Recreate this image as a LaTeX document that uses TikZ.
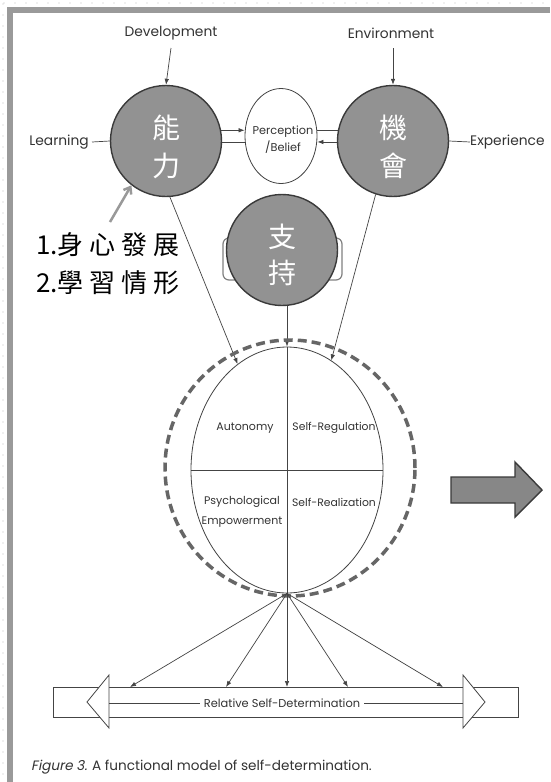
\documentclass[tikz,border=0pt]{standalone}
\usepackage{fontspec}
\setmainfont{Poppins}
\newfontfamily\cjk{Noto Sans CJK TC}
\newfontfamily\figit{Poppins}[FakeSlant=0.2]
\usetikzlibrary{shapes.geometric,arrows.meta}
\definecolor{framegray}{HTML}{9A9A9A}
\definecolor{circfill}{HTML}{929292}
\definecolor{circline}{HTML}{3A3A3A}
\definecolor{txt}{HTML}{333333}
\definecolor{ln}{HTML}{444444}
\begin{document}
\begin{tikzpicture}[x=1pt,y=-1pt,
  outlbl/.style={font=\fontsize{13.8}{15}\selectfont, text=txt, inner sep=0},
  inlbl/.style={font=\fontsize{11}{20}\selectfont, text=txt, inner sep=0, align=center},
  bigc/.style={circle, draw=circline, line width=1.4pt, fill=circfill, minimum size=111pt, inner sep=0},
  cjkw/.style={font=\cjk\fontsize{28}{38}\selectfont, text=white, align=center, inner sep=0},
  ann/.style={font=\cjk\fontsize{26}{38}\selectfont, text=black, inner sep=0, anchor=west},
  thinln/.style={draw=ln, line width=0.7pt},
  tip/.style={-{Latex[length=6pt,width=4.5pt]}},
]
\useasboundingbox (0,0) rectangle (550,782);
\fill[white] (0,0) rectangle (550,782);
% dotted background edge
\foreach \i in {0,...,50} {\fill[black!25] (4+\i*11,3) circle (0.6);}
\foreach \i in {0,...,71} {\fill[black!25] (3,4+\i*11) circle (0.6);}
% frame
\draw[framegray, line width=5.5pt] (10,782) -- (10,10) -- (550,10);

% top row
\node[bigc] (ability) at (166,141) {};
\node[cjkw] (abilityT) at (166,147) {能\\力};
\node[bigc] (opp) at (393,141) {};
\node[cjkw] (oppT) at (393,147) {機\\會};
\node[ellipse, draw=ln, line width=0.8pt, fill=white, minimum width=72pt, minimum height=95pt, inner sep=0] (percep) at (281,136) {};
\node[inlbl, font=\fontsize{11.3}{17}\selectfont] (percepT) at (283,140) {Perception\\/Belief};

\node[outlbl] (dev) at (171,33) {Development};
\node[outlbl] (env) at (391,33) {Environment};
\node[outlbl, anchor=east] (learn) at (89,142) {Learning};
\node[outlbl, anchor=west] (exper) at (470,142) {Experience};

\draw[thinln, tip] (dev.south |- 0,48) -- (ability.north);
\draw[thinln, tip] (opp.north |- 0,48) -- (opp.north);
\draw[thinln] (learn.east) ++(3,0) coordinate (learnE) -- (ability.west);
\draw[thinln] (opp.east) -- (exper.west);

\draw[thinln, tip] (ability.11) -- (ability.11 -| percep.west);
\draw[thinln] (ability.-1) -- (ability.-1 -| percep.west);
\draw[thinln] (opp.169) -- (opp.169 -| percep.east);
\draw[thinln, tip] (opp.-179) -- (opp.-179 -| percep.east);

% support
\draw[black!50, line width=1.2pt, rounded corners=6pt] (223,238) rectangle (342,280);
\node[bigc] (support) at (282,250) {};
\node[cjkw, font=\cjk\fontsize{28}{36}\selectfont] (supportT) at (282,255) {支\\持};

% core ellipse
\node[ellipse, draw=ln, line width=0.8pt, minimum width=192pt, minimum height=246pt, inner sep=0] (core) at (287,470) {};
\draw[thinln] (core.north) -- (core.south);
\draw[thinln] (core.west) -- (core.east);
\node[inlbl] (auto) at (245,428) {Autonomy};
\node[inlbl, font=\fontsize{10.8}{20}\selectfont] (sreg) at (334,428) {Self-Regulation};
\node[inlbl] (psy) at (242,512) {Psychological\\Empowerment};
\node[inlbl, font=\fontsize{10.8}{20}\selectfont] (sreal) at (334,502) {Self-Realization};

\draw[thinln, tip] (core.north |- support.south) -- (core.north);
\draw[thinln, tip] (ability.-86) -- (core.115);
\draw[thinln, tip] (opp.-108) -- (core.68);

% dashed ring
\node[ellipse, draw=black!60, line width=3.5pt, dash pattern=on 9pt off 5pt, minimum width=250pt, minimum height=256pt, inner sep=0] (ring) at (290,468) {};

% annotation
\node[ann] (ann1) at (36,245) {1.身\hspace{6pt}心\hspace{6pt}發\hspace{6pt}展};
\node[ann] (ann2) at (36,283) {2.學\hspace{6pt}習\hspace{6pt}情\hspace{6pt}形};
\coordinate (annS) at (110,222);
\draw[black!40, line width=2.5pt, -{Straight Barb[length=6pt,width=9pt]}] (annS) -- (ability.-128);

% block arrow
\draw[circline, line width=1.4pt, fill=circfill!110] (451,477) -- (515,477) -- (515,462) -- (542,490) -- (515,517) -- (515,503) -- (451,503) -- cycle;

% bottom bar
\node[draw=ln, line width=0.8pt, minimum width=465pt, minimum height=30pt, inner sep=0] (bar) at (285.5,702) {};
\coordinate (e1) at (130,687);
\coordinate (e2) at (226,687);
\coordinate (e3) at (287,687);
\coordinate (e4) at (348,687);
\coordinate (e5) at (443,687);
\foreach \e in {e1,e2,e3,e4,e5} {\draw[thinln, tip] (core.south) -- (\e);}
\draw[ln, line width=0.8pt, fill=white] (109,675) -- (87,702) -- (109,728) -- cycle;
\draw[ln, line width=0.8pt, fill=white] (463,675) -- (485,702) -- (463,728) -- cycle;
\node[inlbl, font=\fontsize{11.4}{12}\selectfont, inner xsep=4pt] (rsd) at (282,703) {Relative Self-Determination};
\draw[ln, line width=0.8pt] (109,703) -- (rsd.west);
\draw[ln, line width=0.8pt] (rsd.east) -- (463,703);

% caption
\node[font=\fontsize{13.6}{15}\selectfont, text=txt, anchor=west, inner sep=0] (cap) at (31,767) {{\figit Figure 3.} A functional model of self-determination.};
\end{tikzpicture}
\end{document}
